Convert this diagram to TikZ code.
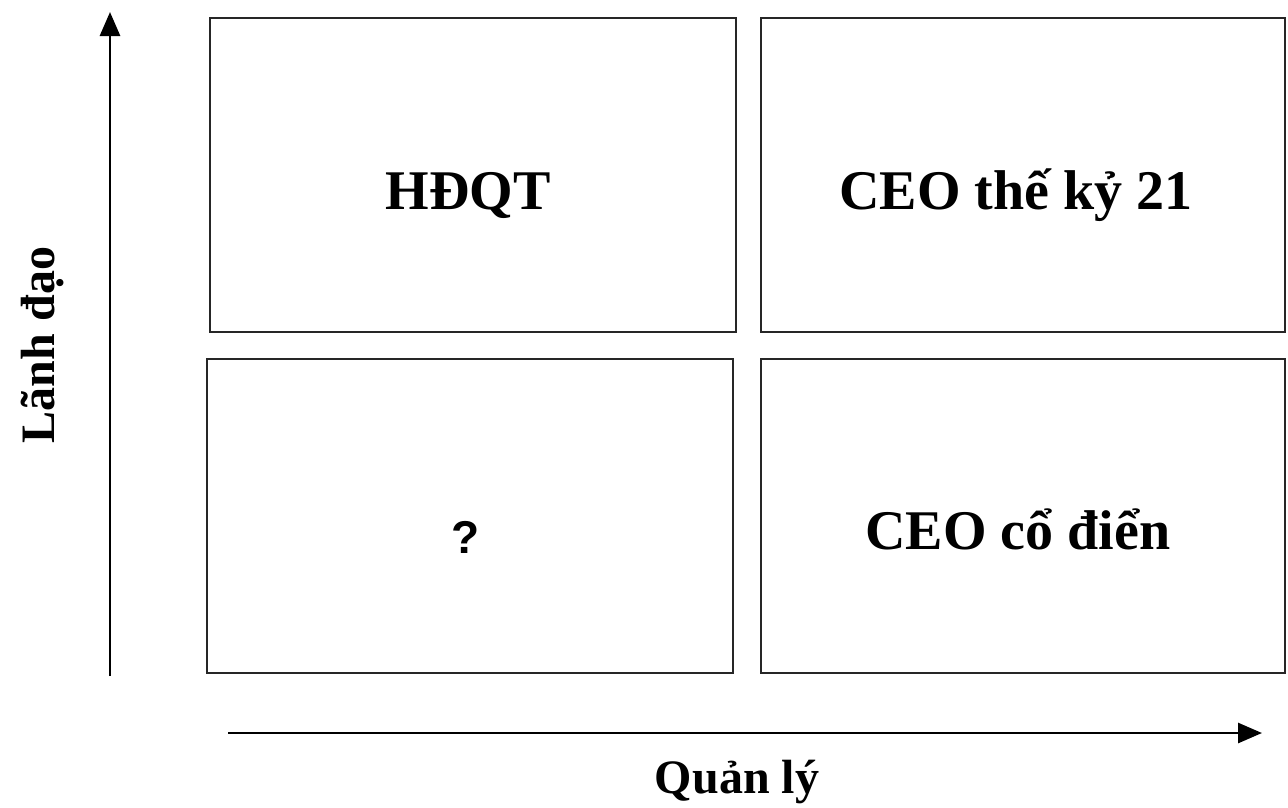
\documentclass[tikz,border=0pt]{standalone}
\usepackage{fontspec}
\setmainfont{Liberation Serif}
\newfontfamily\qfont{Liberation Sans}
\usetikzlibrary{arrows.meta}
\begin{document}
\begin{tikzpicture}[x=1pt,y=-1pt,
  quad/.style={draw=black!85,line width=2pt,minimum width=526pt,minimum height=314pt,inner sep=0pt,anchor=north west},
  qtext/.style={font=\fontsize{56}{60}\selectfont\bfseries,inner sep=0pt},
  axis/.style={draw=black,line width=2.8pt,-{Triangle[length=24pt,width=20pt]}},
  axlabel/.style={font=\fontsize{48}{52}\selectfont\bfseries,inner sep=0pt}]
\useasboundingbox (0,0) rectangle (1288,807);
\fill[white] (0,0) rectangle (1288,807);
\node[quad] (tl) at (209,17) {};
\node[quad,minimum width=524pt] (tr) at (760,17) {};
\node[quad] (bl) at (206,358) {};
\node[quad,minimum width=524pt] (br) at (760,358) {};
\node[qtext] (t1) at (468,195) {HĐQT};
\node[qtext] (t2) at (1016,195) {CEO thế kỷ 21};
\node[qtext,font=\fontsize{46}{50}\selectfont\bfseries\qfont] (t3) at (466,537) {?};
\node[qtext] (t4) at (1018,529) {CEO cổ điển};
\coordinate (vs) at (110,676);
\coordinate (ve) at (110,12);
\draw[axis] (vs) -- (ve);
\coordinate (hs) at (228,733);
\coordinate (he) at (1262,733);
\draw[axis] (hs) -- (he);
\node[axlabel,rotate=90] (ly) at (42,345) {Lãnh đạo};
\node[axlabel] (lx) at (737,782) {Quản lý};
\end{tikzpicture}
\end{document}
